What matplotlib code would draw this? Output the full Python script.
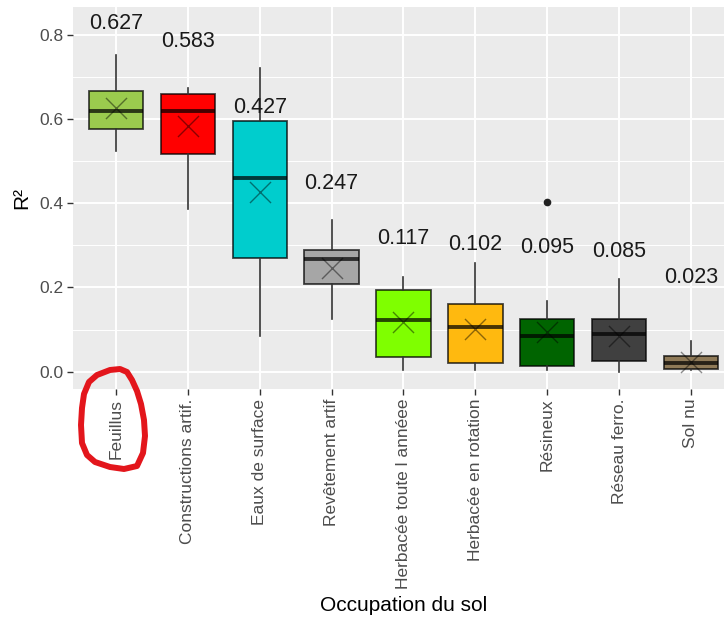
import matplotlib
matplotlib.use("Agg")
import matplotlib.pyplot as plt
from matplotlib.patches import Polygon
from matplotlib.ticker import MultipleLocator

plt.rcParams["font.family"] = ["Liberation Sans", "DejaVu Sans"]

# values
categories = ["Feuillus", "Constructions artif.", "Eaux de surface", "Revêtement artif",
              "Herbacée toute l annéee", "Herbacée en rotation", "Résineux",
              "Réseau ferro.", "Sol nu"]
whisker_low = [0.524, 0.386, 0.084, 0.125, 0.004, 0.004, 0.004, 0.000, 0.004]
q1 = [0.577, 0.516, 0.269, 0.209, 0.036, 0.020, 0.014, 0.026, 0.006]
median = [0.618, 0.618, 0.460, 0.268, 0.123, 0.107, 0.084, 0.089, 0.020]
q3 = [0.667, 0.659, 0.595, 0.290, 0.193, 0.161, 0.125, 0.125, 0.038]
whisker_high = [0.753, 0.674, 0.722, 0.360, 0.224, 0.259, 0.167, 0.221, 0.072]
means = [0.627, 0.583, 0.427, 0.247, 0.117, 0.102, 0.095, 0.085, 0.023]
outliers = [[], [], [], [], [], [], [0.403], [], []]
colors = ["#9BCB4E", "#FF0000", "#00CDCD", "#A6A6A6", "#7FFF00",
          "#FFB90F", "#006400", "#404040", "#8F7A58"]

# hand-drawn red loop around the "Feuillus" label (figure pixels, y from top)
loop_px = [(97, 375), (110, 370), (120, 369), (127, 372), (132, 380), (137, 391),
           (141, 404), (144, 420), (145, 436), (143, 453), (137, 466), (124, 469),
           (110, 467), (95, 462), (87, 455), (82, 443), (81, 425), (82, 408),
           (84, 394), (89, 382)]

stats = []
for i, lab in enumerate(categories):
    stats.append({"label": lab, "whislo": whisker_low[i], "q1": q1[i], "med": median[i],
                  "q3": q3[i], "whishi": whisker_high[i], "mean": means[i],
                  "fliers": outliers[i]})

W, H = 724, 619
fig = plt.figure(figsize=(W / 100, H / 100), dpi=100)
ax = fig.add_axes([73 / W, 1 - 389 / H, 661 / W, 382 / H])
ax.set_facecolor("#EBEBEB")
for s in ax.spines.values():
    s.set_visible(False)

pos = list(range(1, len(categories) + 1))
edge = (0, 0, 0, 0.72)
bp = ax.bxp(stats, positions=pos, widths=0.76, patch_artist=True, showcaps=False,
            showmeans=False, zorder=3,
            boxprops=dict(edgecolor=edge, linewidth=1.3),
            whiskerprops=dict(color="#333333", linewidth=1.2),
            medianprops=dict(color=(0, 0, 0, 0.72), linewidth=2.8),
            flierprops=dict(marker="o", markerfacecolor="#222222", markeredgecolor="#222222",
                            markersize=4.5))
for patch, c in zip(bp["boxes"], colors):
    patch.set_facecolor(c)

ax.scatter(pos, means, marker="x", s=230, color=(0, 0, 0, 0.45), linewidths=1.0, zorder=4)
for x, m in zip(pos, means):
    ax.text(x, m + 0.2, f"{m:.3f}", ha="center", va="center", fontsize=15.5, color="#1A1A1A",
            zorder=5)

ax.set_xlim(0.4, 9.6)
ax.set_ylim(-0.041, 0.866)
ax.yaxis.set_minor_locator(MultipleLocator(0.1))
ax.set_yticks([0.0, 0.2, 0.4, 0.6, 0.8])
ax.set_yticklabels(["0.0", "0.2", "0.4", "0.6", "0.8"])
ax.set_xticks(pos)
ax.set_xticklabels(categories, rotation=90)
ax.grid(which="major", color="white", linewidth=1.4, zorder=0)
ax.grid(which="minor", axis="y", color="white", linewidth=0.7, zorder=0)
ax.set_axisbelow(True)
ax.tick_params(which="major", length=4, width=1, color="#333333", labelcolor="#4D4D4D",
               labelsize=12.5, pad=3)
ax.tick_params(which="minor", length=0)

ax.set_xlabel("Occupation du sol", fontsize=15, color="black", labelpad=5)
ax.set_ylabel("R²", fontsize=15, color="black", labelpad=6)

loop = Polygon([(x / W, 1 - y / H) for x, y in loop_px], closed=True, fill=False,
               edgecolor="#E3161C", linewidth=4.3, joinstyle="round",
               transform=fig.transFigure, zorder=10)
fig.add_artist(loop)

fig.savefig("out.png", dpi=100)
